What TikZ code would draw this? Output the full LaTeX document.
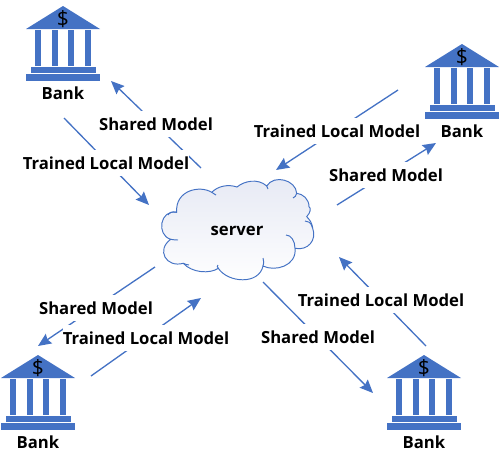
\documentclass[tikz,border=0pt]{standalone}
\usepackage{fontspec}
\setmainfont{Open Sans}
\usetikzlibrary{arrows.meta}
\definecolor{bankblue}{HTML}{4472C4}
\definecolor{cloudtop}{HTML}{E6E9F4}
\tikzstyle{label} = [font=\fontsize{9.5pt}{10pt}\selectfont\bfseries, text=black, inner sep=0pt]
\tikzstyle{labelbox} = [label, fill=white, minimum height=14.7pt]
\tikzstyle{arrow} = [draw=bankblue, line width=0.75pt, -{Stealth[length=7.5pt,width=6.5pt,inset=1pt]}]
\tikzstyle{bankpart} = [fill=bankblue, draw=none]
\tikzstyle{cloudline} = [draw=bankblue, line width=0.55pt]
\tikzset{
  bank/.pic={
    \fill [bankpart] (0,-37) -- (37,-14) -- (-37,-14) -- cycle;
    \foreach \cx in {-25,-8,8,25}
      \fill [bankpart] (\cx-3.2,-13) rectangle (\cx+3.2,23);
    \fill [bankpart] (-32.5,23.6) rectangle (32.5,30.4);
    \fill [bankpart] (-37,31) rectangle (37,38);
    \node (-sign) [label, font=\fontsize{12pt}{12pt}\selectfont] at (0,-24) {\$};
    \node (-name) [label] at (0,50) {Bank};
  }
}
\begin{document}
\begin{tikzpicture}[x=0.02cm, y=-0.02cm]
	\useasboundingbox (0,0) rectangle (500,463);
	\pic (banktl) at (63,43) {bank};
	\pic (banktr) at (462,81) {bank};
	\pic (bankbl) at (38,392) {bank};
	\pic (bankbr) at (424,392) {bank};

	% cloud outline
	\path [top color=cloudtop, bottom color=white, cloudline] (176.7,212.3)
		.. controls (160,209) and (156,235) .. (170.7,239.3)
		.. controls (156,250) and (166,268) .. (183.3,263.3)
		.. controls (192,273) and (210,274) .. (218.3,268.3)
		.. controls (228,283) and (259,285) .. (263,266)
		.. controls (275,272) and (297,266) .. (295,248.3)
		.. controls (308,251) and (317,240) .. (312.7,228.3)
		.. controls (312,223) and (310,220) .. (306.7,216.7)
		.. controls (311,212) and (311,208) .. (309,206.7)
		.. controls (309,199) and (303,194) .. (296.7,193.3)
		.. controls (296,180) and (274,174) .. (266.7,186)
		.. controls (258,178) and (244,181) .. (237,187)
		.. controls (228,184) and (218,186) .. (211.7,192.3)
		.. controls (200,185) and (175,190) .. (176.7,212.3) -- cycle;
	\draw [cloudline] (170.7,239.3) .. controls (174,240) and (176,240) .. (178,240);
	\draw [cloudline] (176.7,212.3) .. controls (172,211) and (169,213) .. (168,215);
	\draw [cloudline] (183.3,263.3) .. controls (185,264) and (187,265) .. (189,265);
	\draw [cloudline] (218.3,268.3) .. controls (217,267) and (217,266) .. (218,265);
	\draw [cloudline] (263,266) .. controls (264,264) and (264,261) .. (263,258);
	\draw [cloudline] (295,248.3) .. controls (295,241) and (291,235) .. (286,235);
	\draw [cloudline] (312.7,228.3) .. controls (311,222) and (308,221) .. (305,221);
	\draw [cloudline] (296.7,193.3) .. controls (296,196) and (295,197) .. (293,198);
	\draw [cloudline] (266.7,186) .. controls (267,187) and (268,188) .. (268,189);
	\draw [cloudline] (211.7,192.3) .. controls (213,193) and (214,194) .. (216,195);
	\node (server) [label] at (237,231) {server};

	\coordinate (a1) at (201,168);
	\coordinate (a2) at (111,81);
	\coordinate (b1) at (64,118);
	\coordinate (b2) at (149,205);
	\coordinate (c1) at (398,90);
	\coordinate (c2) at (276,170);
	\coordinate (d1) at (337,205);
	\coordinate (d2) at (436,143);
	\coordinate (e1) at (155,267);
	\coordinate (e2) at (38,346);
	\coordinate (f1) at (91,376);
	\coordinate (f2) at (201,298);
	\coordinate (g1) at (263,282);
	\coordinate (g2) at (373,393);
	\coordinate (h1) at (426,346);
	\coordinate (h2) at (339,257);

	\draw [arrow] (a1) -- (a2);
	\draw [arrow] (b1) -- (b2);
	\draw [arrow] (c1) -- (c2);
	\draw [arrow] (d1) -- (d2);
	\draw [arrow] (e1) -- (e2);
	\draw [arrow] (f1) -- (f2);
	\draw [arrow] (g1) -- (g2);
	\draw [arrow] (h1) -- (h2);

	\node (sharedtl) [labelbox] at (156,124) {Shared Model};
	\node (trainedtl) [labelbox] at (106,163) {Trained Local Model};
	\node (trainedtr) [labelbox] at (337,131) {Trained Local Model};
	\node (sharedtr) [labelbox] at (386,175) {Shared Model};
	\node (sharedbl) [labelbox] at (96,308) {Shared Model};
	\node (trainedbl) [labelbox] at (146,338) {Trained Local Model};
	\node (sharedbr) [labelbox] at (318,337) {Shared Model};
	\node (trainedbr) [labelbox] at (381,300) {Trained Local Model};
\end{tikzpicture}
\end{document}
